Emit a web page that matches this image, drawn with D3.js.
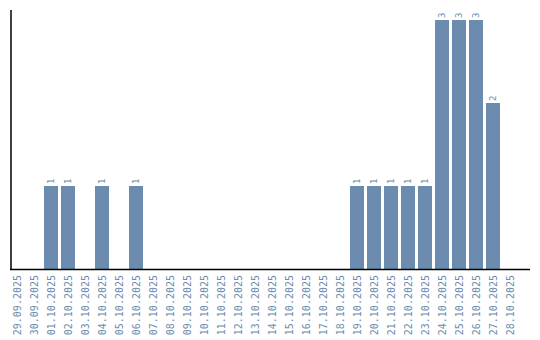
<!DOCTYPE html>
<html>
<head>
<meta charset="utf-8">
<script src="https://cdn.jsdelivr.net/npm/d3@7"></script>
<style>
  body { margin: 0; background: #fff; }
  text { font-family: "DejaVu Sans Mono", monospace; }
</style>
</head>
<body>
<div id="chart"></div>
<script>
const dates = ["29.09.2025", "30.09.2025", "01.10.2025", "02.10.2025", "03.10.2025", "04.10.2025",
  "05.10.2025", "06.10.2025", "07.10.2025", "08.10.2025", "09.10.2025", "10.10.2025",
  "11.10.2025", "12.10.2025", "13.10.2025", "14.10.2025", "15.10.2025", "16.10.2025",
  "17.10.2025", "18.10.2025", "19.10.2025", "20.10.2025", "21.10.2025", "22.10.2025",
  "23.10.2025", "24.10.2025", "25.10.2025", "26.10.2025", "27.10.2025", "28.10.2025"];
const counts = [0, 0, 1, 1, 0, 1, 0, 1, 0, 0, 0, 0, 0, 0, 0, 0, 0, 0, 0, 0, 1, 1, 1, 1, 1, 3, 3, 3, 2, 0];

const w = 540, h = 340;
const color = "#6b8cae";

const svg = d3.select("#chart")
  .append("svg")
  .attr("width", w)
  .attr("height", h);

const x = d3.scaleBand()
  .domain(dates)
  .range([8.5, 518.5])
  .paddingInner(3 / 17)
  .paddingOuter(1.5 / 17);

const y = d3.scaleLinear()
  .domain([0, 3])
  .range([269, 20]);

const data = dates.map((d, i) => ({date: d, value: counts[i]}));

svg.selectAll("rect.bar")
  .data(data.filter(d => d.value > 0))
  .enter()
  .append("rect")
  .attr("class", "bar")
  .attr("fill", color)
  .attr("x", d => x(d.date))
  .attr("y", d => y(d.value))
  .attr("width", x.bandwidth())
  .attr("height", d => y(0) - y(d.value));

// value labels
svg.selectAll("text.val")
  .data(data.filter(d => d.value > 0))
  .enter()
  .append("text")
  .attr("class", "val")
  .attr("fill", color)
  .attr("font-size", "9px")
  .attr("text-anchor", "start")
  .attr("dy", "0.35em")
  .attr("transform", d => "translate(" + (x(d.date) + x.bandwidth() / 2) + "," + (y(d.value) - 2) + ") rotate(-90)")
  .text(d => d.value);

// date labels
svg.selectAll("text.date")
  .data(dates)
  .enter()
  .append("text")
  .attr("class", "date")
  .attr("fill", color)
  .attr("font-size", "10px")
  .attr("text-anchor", "end")
  .attr("dy", "0.35em")
  .attr("transform", d => "translate(" + (x(d) + x.bandwidth() / 2) + ",275) rotate(-90)")
  .text(d => d);

// axes lines
svg.append("line")
  .attr("x1", 11).attr("x2", 11)
  .attr("y1", 10).attr("y2", 270)
  .attr("stroke", "#000").attr("stroke-width", 1.5);

svg.append("line")
  .attr("x1", 10).attr("x2", 530)
  .attr("y1", y(0) + 0.5).attr("y2", y(0) + 0.5)
  .attr("stroke", "#000").attr("stroke-width", 1.5);
</script>
</body>
</html>
